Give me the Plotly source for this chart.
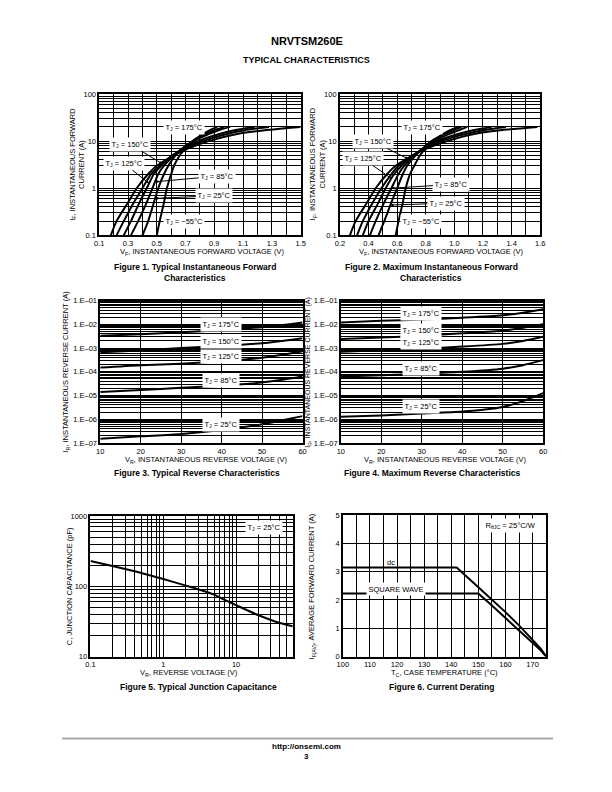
import numpy as np
import plotly.graph_objects as go

W, H = 612, 792
FONT = "Liberation Sans, Arial, Helvetica, sans-serif"

# ---------------- Figure 1: typical forward ----------------
fwd_current = [0.1, 0.2, 0.5, 1, 2, 3, 5, 7, 10, 14, 17, 20]
typ_vf_175 = [0.18, 0.22, 0.30, 0.36, 0.44, 0.50, 0.62, 0.72, 0.86, 1.05, 1.25, 1.50]
typ_vf_150 = [0.22, 0.27, 0.34, 0.40, 0.46, 0.52, 0.61, 0.70, 0.82, 0.98, 1.11, 1.28]
typ_vf_125 = [0.27, 0.32, 0.38, 0.43, 0.48, 0.53, 0.61, 0.69, 0.79, 0.93, 1.04, 1.18]
typ_vf_85 = [0.32, 0.37, 0.43, 0.47, 0.51, 0.55, 0.62, 0.68, 0.76, 0.86, 0.93, 1.01]
typ_vf_25 = [0.40, 0.44, 0.48, 0.51, 0.55, 0.58, 0.63, 0.68, 0.75, 0.84, 0.90, 0.97]
typ_vf_m55 = [0.50, 0.52, 0.55, 0.57, 0.60, 0.62, 0.66, 0.70, 0.75, 0.82, 0.87, 0.92]

# ---------------- Figure 2: maximum forward ----------------
max_vf_175 = [0.27, 0.31, 0.39, 0.45, 0.53, 0.59, 0.71, 0.81, 0.95, 1.13, 1.32, 1.58]
max_vf_150 = [0.32, 0.36, 0.43, 0.49, 0.56, 0.61, 0.71, 0.80, 0.91, 1.07, 1.20, 1.36]
max_vf_125 = [0.36, 0.40, 0.47, 0.52, 0.58, 0.63, 0.71, 0.79, 0.88, 1.02, 1.13, 1.26]
max_vf_85 = [0.41, 0.45, 0.51, 0.56, 0.61, 0.65, 0.72, 0.78, 0.86, 0.96, 1.03, 1.09]
max_vf_25 = [0.47, 0.51, 0.56, 0.60, 0.64, 0.67, 0.73, 0.78, 0.84, 0.93, 0.99, 1.05]
max_vf_m55 = [0.59, 0.61, 0.64, 0.66, 0.69, 0.72, 0.76, 0.80, 0.85, 0.92, 0.97, 1.03]

fwd_x_tickvals_1 = [0.1, 0.2, 0.3, 0.4, 0.5, 0.6, 0.7, 0.8, 0.9, 1.0, 1.1, 1.2, 1.3, 1.4, 1.5]
fwd_x_ticktext_1 = ["0.1", "", "0.3", "", "0.5", "", "0.7", "", "0.9", "", "1.1", "", "1.3", "", "1.5"]
fwd_x_tickvals_2 = [0.2, 0.3, 0.4, 0.5, 0.6, 0.7, 0.8, 0.9, 1.0, 1.1, 1.2, 1.3, 1.4, 1.5, 1.6]
fwd_x_ticktext_2 = ["0.2", "", "0.4", "", "0.6", "", "0.8", "", "1.0", "", "1.2", "", "1.4", "", "1.6"]

# ---------------- Figures 3 & 4: reverse ----------------
rev_voltage = [10, 20, 30, 40, 50, 55, 60]
typ_ir_175 = [3.3e-3, 3.8e-3, 4.6e-3, 5.7e-3, 7.6e-3, 9.3e-3, 1.2e-2]
typ_ir_150 = [6.6e-4, 7.9e-4, 1.0e-3, 1.25e-3, 1.6e-3, 2.0e-3, 2.6e-3]
typ_ir_125 = [1.5e-4, 1.9e-4, 2.2e-4, 2.8e-4, 3.9e-4, 5.2e-4, 7.3e-4]
typ_ir_85 = [1.4e-5, 1.7e-5, 2.1e-5, 2.6e-5, 3.5e-5, 4.6e-5, 6.3e-5]
typ_ir_25 = [1.5e-7, 1.9e-7, 2.4e-7, 3.5e-7, 6.1e-7, 9.0e-7, 1.35e-6]

max_ir_175 = [1.2e-2, 1.4e-2, 1.6e-2, 1.9e-2, 2.4e-2, 3.1e-2, 4.3e-2]
max_ir_150 = [2.4e-3, 2.8e-3, 3.3e-3, 4.2e-3, 5.4e-3, 7.2e-3, 1.0e-2]
max_ir_125 = [7.0e-4, 8.0e-4, 9.5e-4, 1.15e-3, 1.5e-3, 2.0e-3, 3.0e-3]
max_ir_85 = [6.3e-5, 7.2e-5, 8.4e-5, 1.0e-4, 1.35e-4, 1.9e-4, 3.1e-4]
max_ir_25 = [1.26e-6, 1.45e-6, 1.74e-6, 2.1e-6, 3.3e-6, 5.8e-6, 1.26e-5]

rev_x_tickvals = [10, 20, 30, 40, 50, 60]

# ---------------- Figure 5: capacitance ----------------
cap_voltage = [0.1, 0.2, 0.5, 1, 2, 3, 5, 7, 10, 20, 40, 60]
cap_pf = [230, 195, 155, 127, 103, 91, 76, 64, 54, 39, 30, 27]

# ---------------- Figure 6: derating ----------------
dc_temp = [100, 142, 150, 155, 160, 165, 170, 173, 175]
dc_current = [3.15, 3.15, 2.45, 2.02, 1.57, 1.10, 0.60, 0.28, 0.0]
sq_temp = [100, 150, 155, 160, 165, 170, 173, 175]
sq_current = [2.23, 2.23, 1.80, 1.37, 0.93, 0.50, 0.22, 0.0]
derate_x_tickvals = [100, 105, 110, 115, 120, 125, 130, 135, 140, 145, 150, 155, 160, 165, 170, 175]
derate_x_ticktext = ["100", "", "110", "", "120", "", "130", "", "140", "", "150", "", "160", "", "170", ""]
derate_y_tickvals = [0, 1, 2, 3, 4, 5]

temps_fwd = ["175", "150", "125", "85", "25", "\u221255"]


def px(x):
    return x / W


def py(y):
    return 1 - y / H


def log_ticks(lo, hi, fmt):
    vals, text = [], []
    for e in range(lo, hi + 1):
        for m in range(1, 10):
            v = m * 10.0 ** e
            if e == hi and m > 1:
                break
            vals.append(float(f"{v:.3g}"))
            text.append(fmt(e) if m == 1 else "")
    return vals, text


def axis_common(**kw):
    d = dict(showgrid=True, gridcolor="black", gridwidth=1, showline=True, mirror=True,
             linecolor="black", linewidth=1.5, ticks="", zeroline=False,
             tickfont=dict(family=FONT, size=7.5, color="black"), tickmode="array")
    d.update(kw)
    return d


fig = go.Figure()
LINE = dict(color="black", width=2, shape="spline", smoothing=0.7)

panels = {
    1: dict(x=(95, 300), y=(91, 234)),
    2: dict(x=(340, 544), y=(91, 234)),
    3: dict(x=(96, 302), y=(300, 444)),
    4: dict(x=(341, 547), y=(300, 444)),
    5: dict(x=(86, 292), y=(518, 660)),
    6: dict(x=(343, 550), y=(517, 660)),
}


def dom(i):
    p = panels[i]
    return [px(p["x"][0]), px(p["x"][1])], [py(p["y"][1]), py(p["y"][0])]


def dec_label(e):
    return {-1: "0.1", 0: "1", 1: "10", 2: "100", 3: "1000"}[e]


def ir_label(e):
    return "1.E\u2013%02d" % (-e)


fwd_y_vals, fwd_y_text = log_ticks(-1, 2, dec_label)
rev_y_vals, rev_y_text = log_ticks(-7, -1, ir_label)
cap_y_vals, cap_y_text = log_ticks(1, 3, dec_label)
cap_x_vals, cap_x_text = log_ticks(-1, 2, dec_label)
cap_x_vals = [v for v in cap_x_vals if v <= 60]
cap_x_text = cap_x_text[:len(cap_x_vals)]

layout_axes = {}
xd, yd = dom(1)
layout_axes["xaxis"] = axis_common(domain=xd, anchor="y", range=[0.1, 1.5], tickvals=fwd_x_tickvals_1, ticktext=fwd_x_ticktext_1)
layout_axes["yaxis"] = axis_common(domain=yd, anchor="x", type="log", range=[-1, 2], tickvals=fwd_y_vals, ticktext=fwd_y_text)
xd, yd = dom(2)
layout_axes["xaxis2"] = axis_common(domain=xd, anchor="y2", range=[0.2, 1.6], tickvals=fwd_x_tickvals_2, ticktext=fwd_x_ticktext_2)
layout_axes["yaxis2"] = axis_common(domain=yd, anchor="x2", type="log", range=[-1, 2], tickvals=fwd_y_vals, ticktext=fwd_y_text)
xd, yd = dom(3)
layout_axes["xaxis3"] = axis_common(domain=xd, anchor="y3", range=[10, 60], tickvals=rev_x_tickvals, ticktext=[str(v) for v in rev_x_tickvals])
layout_axes["yaxis3"] = axis_common(domain=yd, anchor="x3", type="log", range=[-7, -1], tickvals=rev_y_vals, ticktext=rev_y_text)
xd, yd = dom(4)
layout_axes["xaxis4"] = axis_common(domain=xd, anchor="y4", range=[10, 60], tickvals=rev_x_tickvals, ticktext=[str(v) for v in rev_x_tickvals])
layout_axes["yaxis4"] = axis_common(domain=yd, anchor="x4", type="log", range=[-7, -1], tickvals=rev_y_vals, ticktext=rev_y_text)
xd, yd = dom(5)
layout_axes["xaxis5"] = axis_common(domain=xd, anchor="y5", type="log", range=[-1, np.log10(60)], tickvals=cap_x_vals, ticktext=cap_x_text)
layout_axes["yaxis5"] = axis_common(domain=yd, anchor="x5", type="log", range=[1, 3], tickvals=cap_y_vals, ticktext=cap_y_text)
xd, yd = dom(6)
layout_axes["xaxis6"] = axis_common(domain=xd, anchor="y6", range=[100, 175], tickvals=derate_x_tickvals, ticktext=derate_x_ticktext)
layout_axes["yaxis6"] = axis_common(domain=yd, anchor="x6", range=[0, 5], tickvals=derate_y_tickvals, ticktext=[str(v) for v in derate_y_tickvals])

# ---------------- traces ----------------
typ_fwd = [typ_vf_175, typ_vf_150, typ_vf_125, typ_vf_85, typ_vf_25, typ_vf_m55]
max_fwd = [max_vf_175, max_vf_150, max_vf_125, max_vf_85, max_vf_25, max_vf_m55]
for name, vf in zip(temps_fwd, typ_fwd):
    fig.add_trace(go.Scatter(x=vf, y=fwd_current, xaxis="x", yaxis="y", mode="lines", line=LINE,
                             name=name, showlegend=False, hoverinfo="skip"))
for name, vf in zip(temps_fwd, max_fwd):
    fig.add_trace(go.Scatter(x=vf, y=fwd_current, xaxis="x2", yaxis="y2", mode="lines", line=LINE,
                             name=name, showlegend=False, hoverinfo="skip"))
for ir in [typ_ir_175, typ_ir_150, typ_ir_125, typ_ir_85, typ_ir_25]:
    fig.add_trace(go.Scatter(x=rev_voltage, y=ir, xaxis="x3", yaxis="y3", mode="lines", line=LINE,
                             showlegend=False, hoverinfo="skip"))
for ir in [max_ir_175, max_ir_150, max_ir_125, max_ir_85, max_ir_25]:
    fig.add_trace(go.Scatter(x=rev_voltage, y=ir, xaxis="x4", yaxis="y4", mode="lines", line=LINE,
                             showlegend=False, hoverinfo="skip"))
fig.add_trace(go.Scatter(x=cap_voltage, y=cap_pf, xaxis="x5", yaxis="y5", mode="lines", line=LINE,
                         showlegend=False, hoverinfo="skip"))
fig.add_trace(go.Scatter(x=dc_temp, y=dc_current, xaxis="x6", yaxis="y6", mode="lines",
                         line=dict(color="black", width=2), showlegend=False, hoverinfo="skip"))
fig.add_trace(go.Scatter(x=sq_temp, y=sq_current, xaxis="x6", yaxis="y6", mode="lines",
                         line=dict(color="black", width=2), showlegend=False, hoverinfo="skip"))

# ---------------- annotations ----------------
ann = []
LF = dict(family=FONT, size=7.5, color="black")


def tj(t):
    return "T<sub>J</sub> = %s\u00b0C" % t


def curve_label(text, xr, yr, tx, ty, tip=None, xlog=False, ylog=False):
    fx = (lambda v: np.log10(v)) if xlog else (lambda v: v)
    fy = (lambda v: np.log10(v)) if ylog else (lambda v: v)
    d = dict(text=text, xref=xr, yref=yr, font=LF, bgcolor="white", borderpad=1.5)
    if tip is None:
        d.update(x=fx(tx), y=fy(ty), showarrow=False)
    else:
        d.update(x=fx(tip[0]), y=fy(tip[1]), ax=fx(tx), ay=fy(ty), axref=xr, ayref=yr,
                 showarrow=True, arrowhead=2, arrowsize=0.6, arrowwidth=1, arrowcolor="black", standoff=0)
    ann.append(d)


def tip_on(vf, cur):
    return (float(np.interp(np.log10(cur), np.log10(fwd_current), vf)), cur)


f1_lab = [(0.69, 19.2, None), (0.316, 8.6, 3.3), (0.27, 3.4, 1.26), (0.92, 1.8, 1.37), (0.90, 0.69, 0.61), (0.69, 0.2, None)]
for t, vf, (tx, ty, tc) in zip(temps_fwd, typ_fwd, f1_lab):
    curve_label(tj(t), "x", "y", tx, ty, None if tc is None else tip_on(vf, tc), ylog=True)
f2_lab = [(0.777, 19.2, None), (0.433, 9.8, 4.2), (0.36, 4.3, 1.6), (0.98, 1.2, 1.0), (0.94, 0.48, 0.44), (0.77, 0.2, None)]
for t, vf, (tx, ty, tc) in zip(temps_fwd, max_fwd, f2_lab):
    curve_label(tj(t), "x2", "y2", tx, ty, None if tc is None else tip_on(vf, tc), ylog=True)

for t, y in zip(["175", "150", "125", "85", "25"], [9.8e-3, 1.9e-3, 4.5e-4, 4.2e-5, 6.1e-7]):
    curve_label(tj(t), "x3", "y3", 39.8, y, ylog=True)
for t, y in zip(["175", "150", "125", "85", "25"], [2.8e-2, 5.7e-3, 1.7e-3, 1.4e-4, 3.3e-6]):
    curve_label(tj(t), "x4", "y4", 29.8, y, ylog=True)
curve_label(tj("25"), "x5", "y5", 24, 690, xlog=True, ylog=True)
curve_label("R<sub>\u03b8JC</sub> = 25\u00b0C/W", "x6", "y6", 162, 4.62)
curve_label("SQUARE WAVE", "x6", "y6", 119.5, 2.38)
ann.append(dict(text="dc", xref="x6", yref="y6", x=117.6, y=3.33, showarrow=False, font=LF))


def ptext(text, x, y, size=7.5, angle=0, bold=False):
    ann.append(dict(text=("<b>%s</b>" % text) if bold else text, xref="paper", yref="paper",
                    x=px(x), y=py(y), showarrow=False, textangle=angle,
                    font=dict(family=FONT, size=size, color="black"), xanchor="center", yanchor="middle"))


ptext("NRVTSM260E", 306, 37, size=11, bold=True)
ptext("TYPICAL CHARACTERISTICS", 306, 57, size=9, bold=True)

ptext("I<sub>F</sub>, INSTANTANEOUS FORWARD<br>CURRENT (A)", 72, 162, angle=-90)
ptext("V<sub>F</sub>, INSTANTANEOUS FORWARD VOLTAGE (V)", 200, 251)
ptext("I<sub>F</sub>, INSTANTANEOUS FORWARD<br>CURRENT (A)", 317, 162, angle=-90)
ptext("V<sub>F</sub>, INSTANTANEOUS FORWARD VOLTAGE (V)", 443, 251)
ptext("I<sub>R</sub>, INSTANTANEOUS REVERSE CURRENT (A)", 61, 372, angle=-90)
ptext("V<sub>R</sub>, INSTANTANEOUS REVERSE VOLTAGE (V)", 204, 461)
ptext("I<sub>R</sub>, INSTANTANEOUS REVERSE CURRENT (A)", 307.5, 372, size=7, angle=-90)
ptext("V<sub>R</sub>, INSTANTANEOUS REVERSE VOLTAGE (V)", 448, 461)
ptext("C, JUNCTION CAPACITANCE (pF)", 64, 589, angle=-90)
ptext("V<sub>R</sub>, REVERSE VOLTAGE (V)", 186, 677)
ptext("I<sub>F(AV)</sub>, AVERAGE FORWARD CURRENT (A)", 312, 589, angle=-90)
ptext("T<sub>C</sub>, CASE TEMPERATURE (\u00b0C)", 447, 677)

ptext("Figure 1. Typical Instantaneous Forward", 192, 266, size=8.5, bold=True)
ptext("Characteristics", 192, 277, size=8.5, bold=True)
ptext("Figure 2. Maximum Instantaneous Forward", 433, 266, size=8.5, bold=True)
ptext("Characteristics", 433, 277, size=8.5, bold=True)
ptext("Figure 3. Typical Reverse Characteristics", 195, 474, size=8.5, bold=True)
ptext("Figure 4. Maximum Reverse Characteristics", 434, 474, size=8.5, bold=True)
ptext("Figure 5. Typical Junction Capacitance", 196, 691, size=8.5, bold=True)
ptext("Figure 6. Current Derating", 443, 691, size=8.5, bold=True)

ptext("http://onsemi.com", 306, 751, size=8, bold=True)
ptext("3", 306, 761, size=8, bold=True)

fig.update_layout(
    width=W, height=H, margin=dict(l=0, r=0, t=0, b=0),
    paper_bgcolor="white", plot_bgcolor="white",
    annotations=ann,
    shapes=[dict(type="line", xref="paper", yref="paper", x0=px(57), x1=px(557), y0=py(743), y1=py(743),
                 line=dict(color="#aaaaaa", width=2))],
    **layout_axes,
)

fig.write_html("out.html", config={"displayModeBar": False},
               post_script="document.body.style.margin='0';document.body.style.padding='0';"
                           "document.body.style.overflow='hidden';")
